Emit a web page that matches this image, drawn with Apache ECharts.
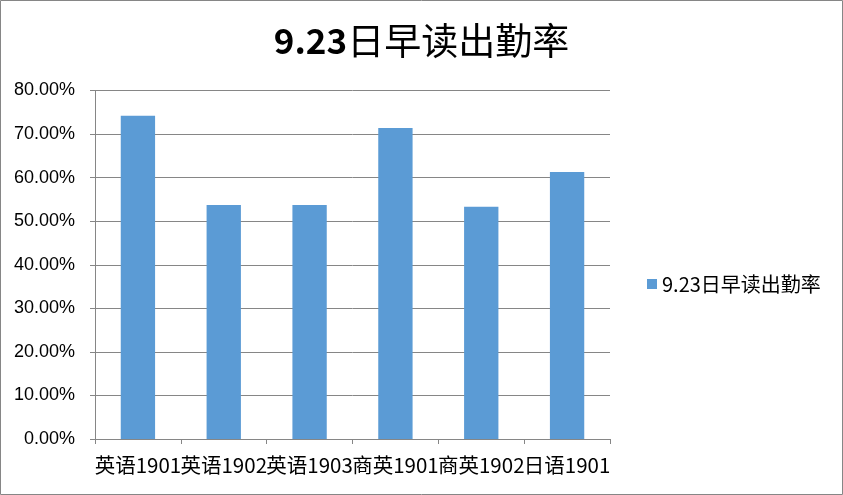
<!DOCTYPE html>
<html>
<head>
<meta charset="utf-8">
<script src="https://cdn.jsdelivr.net/npm/echarts@6/dist/echarts.min.js"></script>
<style>
html,body{margin:0;padding:0;background:#fff;}
#c{width:843px;height:495px;}
</style>
</head>
<body>
<div id="c"></div>
<script>
const categories = ['英语1901','英语1902','英语1903','商英1901','商英1902','日语1901'];
const seriesName = '9.23日早读出勤率';
const values = [0.742, 0.537, 0.537, 0.714, 0.533, 0.613];
const yTicks = [0, 0.1, 0.2, 0.3, 0.4, 0.5, 0.6, 0.7, 0.8];

const chart = echarts.init(document.getElementById('c'), null, {renderer:'canvas'});
const gray = '#868686';
chart.setOption({
  animation: false,
  backgroundColor: '#fff',
  title: {
    text: '{b|9.23}{n|日早读出勤率}',
    left: 'center',
    top: 17,
    textStyle: {
      rich: {
        b: {fontFamily: 'Noto Sans CJK SC', fontWeight: 'bold', fontSize: 35, color: '#000'},
        n: {fontFamily: 'Noto Sans CJK SC', fontWeight: 'normal', fontSize: 37, color: '#000'}
      }
    }
  },
  legend: {
    data: [seriesName],
    left: 642,
    top: 269,
    icon: 'rect',
    itemWidth: 10,
    itemHeight: 10,
    itemGap: 4,
    textStyle: {fontFamily: 'Noto Sans CJK SC', fontSize: 20, color: '#000'}
  },
  grid: {left: 95, right: 233, top: 90.5, bottom: 56},
  xAxis: {
    type: 'category',
    data: categories,
    axisLine: {lineStyle: {color: gray, width: 1}},
    axisTick: {show: true, length: 5, lineStyle: {color: gray}},
    axisLabel: {fontFamily: 'Noto Sans CJK SC', fontSize: 20.5, color: '#000', margin: 16, interval: 0}
  },
  yAxis: {
    type: 'value',
    min: 0, max: 0.8, interval: 0.1,
    axisLine: {show: true, lineStyle: {color: gray, width: 1}},
    axisTick: {show: true, length: 5, lineStyle: {color: gray}},
    splitLine: {show: true, lineStyle: {color: gray, width: 1}},
    axisLabel: {
      fontFamily: 'Liberation Sans', fontSize: 18, color: '#000', margin: 20,
      formatter: v => (v * 100).toFixed(2) + '%'
    }
  },
  series: [{
    name: seriesName,
    type: 'bar',
    data: values,
    barCategoryGap: '60%',
    itemStyle: {color: '#5B9BD5'}
  }],
  graphic: [{
    type: 'rect',
    shape: {x: 0.5, y: 0.5, width: 842, height: 494},
    style: {fill: 'none', stroke: gray, lineWidth: 1},
    silent: true
  }]
});
</script>
</body>
</html>
